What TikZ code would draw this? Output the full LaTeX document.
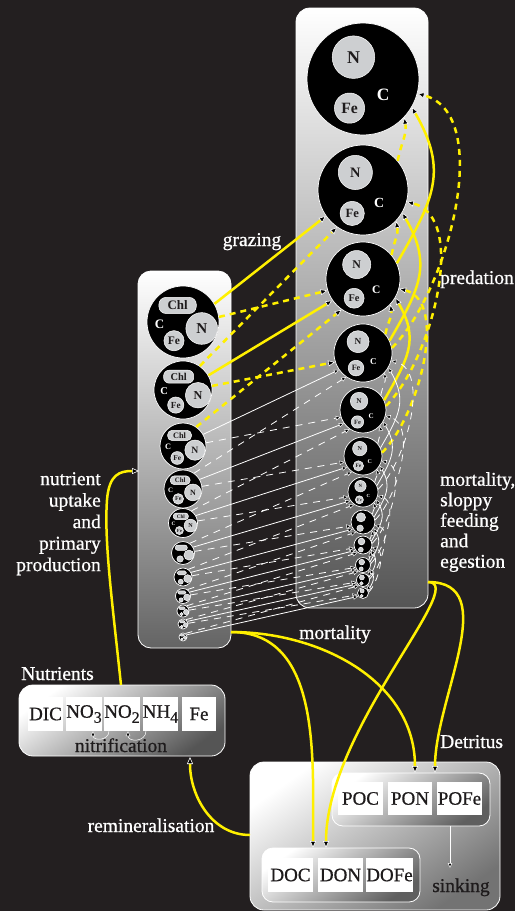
\documentclass[tikz,border=0pt]{standalone}
\usepackage{fontspec}
\setmainfont{Liberation Serif}
\newfontfamily\lblfont{Liberation Serif}[FakeBold=0.7]
\usetikzlibrary{arrows.meta}
\definecolor{bg}{RGB}{35,31,32}
\definecolor{yel}{RGB}{255,240,0}
\definecolor{cgray}{RGB}{205,207,209}
\definecolor{ink}{RGB}{30,27,28}
\definecolor{zbot}{RGB}{85,85,85}
\definecolor{pbot}{RGB}{100,100,100}
\definecolor{nbot}{RGB}{85,85,85}
\definecolor{dbot}{RGB}{115,115,115}
\definecolor{ibot}{RGB}{95,95,95}
\tikzset{
  ytip/.tip={Triangle[length=7pt,width=6pt,fill=black,color=white,line width=0.6pt]},
  wtip/.tip={Triangle[length=5pt,width=4.5pt,fill=black,color=white,line width=0.5pt]},
  ysolid/.style={draw=yel,line width=2.5pt,-ytip},
  ydash/.style={ysolid,dash pattern=on 6pt off 5pt},
  wsolid/.style={draw=white,line width=0.8pt,-wtip},
  wdash/.style={wsolid,dash pattern=on 7pt off 6pt},
  gr1/.style={ysolid}, gr0/.style={wsolid}, da1/.style={ydash}, da0/.style={wdash},
  zc/.style={circle,fill=black,draw=white,line width=0.7pt,inner sep=0pt},
  ic/.style={circle,fill=cgray,draw=white,line width=0.5pt,inner sep=0pt,text=ink},
  chl/.style={rectangle,fill=cgray,draw=white,line width=0.5pt,inner sep=0pt,text=ink},
  ct/.style={inner sep=0pt,text=white},
  lbl/.style={inner sep=0pt,text=white,font=\lblfont\fontsize{19.5}{21}\selectfont},
  dlbl/.style={inner sep=0pt,text=ink,font=\lblfont\fontsize{19.5}{21}\selectfont},
  wbox/.style={rectangle,fill=white,inner sep=0pt,text=ink,minimum height=34pt,font=\lblfont\fontsize{19}{20}\selectfont},
  panel/.style={rectangle,draw=white,line width=0.8pt,inner sep=0pt,rounded corners=14pt},
}
\begin{document}
\begin{tikzpicture}[x=1pt,y=-1pt]
\fill[bg] (0,0) rectangle (515,911);
\useasboundingbox (0,0) rectangle (515,911);

% panels
\node[panel,top color=white,bottom color=zbot,minimum width=132pt,minimum height=600pt] (zoo) at (362,308) {};
\node[panel,rounded corners=13pt,top color=white,bottom color=pbot,minimum width=93pt,minimum height=377pt] (phy) at (184.5,459.5) {};
\node[panel,top color=white,bottom color=nbot,shading angle=35,minimum width=206pt,minimum height=71pt] (nut) at (122,720.5) {};
\node[panel,top color=white,bottom color=dbot,shading angle=35,minimum width=250pt,minimum height=148pt] (det) at (375,836) {};
\node[panel,rounded corners=11pt,top color=white,bottom color=ibot,shading angle=35,minimum width=158pt,minimum height=53pt] (pom) at (411,799.5) {};
\node[panel,rounded corners=11pt,top color=white,bottom color=ibot,shading angle=35,minimum width=158pt,minimum height=54pt] (dom) at (341,875) {};

% nutrient boxes
\node[wbox,minimum width=35pt] (dic) at (45.5,714) {DIC};
\node[wbox,minimum width=36pt] (no3) at (84,714) {NO\raisebox{-5pt}{\fontsize{16}{16}\selectfont 3}};
\node[wbox,minimum width=36pt] (no2) at (122,714) {NO\raisebox{-5pt}{\fontsize{16}{16}\selectfont 2}};
\node[wbox,minimum width=35pt] (nh4) at (160.5,714) {NH\raisebox{-5pt}{\fontsize{16}{16}\selectfont 4}};
\node[wbox,minimum width=34pt] (fe) at (199,714) {Fe};

% detritus boxes
\node[wbox,minimum width=45pt,minimum height=33pt] (poc) at (360.5,798.5) {POC};
\node[wbox,minimum width=44pt,minimum height=33pt] (pon) at (410,798.5) {PON};
\node[wbox,minimum width=45pt,minimum height=33pt] (pofe) at (459.5,798.5) {POFe};
\node[wbox,minimum width=45pt] (doc) at (290.5,875) {DOC};
\node[wbox,minimum width=45pt] (don) at (340.5,875) {DON};
\node[wbox,minimum width=45pt] (dofe) at (389.5,875) {DOFe};

% zooplankton circles
\foreach \i/\x/\y/\rr in {1/363/79/56,2/363/190/45,3/363/279/37,4/363/353/29,5/363/410/23,6/363/456/19,7/363/492/15,8/363/522/12,9/363/545/9,10/363/565/7.5,11/363/580/6.5,12/363/593/5.5}{
  \node[zc,minimum size=2*\rr] (z\i) at (\x,\y) {};
  \pgfmathsetmacro\nx{\x-0.17*\rr}
  \pgfmathsetmacro\ny{\y-0.39*\rr}
  \pgfmathsetmacro\fx{\x-0.24*\rr}
  \pgfmathsetmacro\fy{\y+0.52*\rr}
  \pgfmathsetmacro\cx{\x+0.36*\rr}
  \pgfmathsetmacro\cy{\y+0.28*\rr}
  \pgfmathsetmacro\fsa{0.32*\rr}
  \pgfmathsetmacro\fsb{0.28*\rr}
  \pgfmathsetmacro\fsc{0.31*\rr}
  \pgfmathtruncatemacro\isbig{\rr>=14}
  \ifnum\isbig=1
    \node[ic,minimum size=0.76*\rr,font=\fontsize{\fsa}{\fsa}\selectfont\bfseries] (zN\i) at (\nx,\ny) {N};
    \node[ic,minimum size=0.54*\rr,font=\fontsize{\fsb}{\fsb}\selectfont\bfseries] (zF\i) at (\fx,\fy) {Fe};
    \node[ct,font=\fontsize{\fsc}{\fsc}\selectfont\bfseries] (zC\i) at (\cx,\cy) {C};
  \else
    \node[ic,minimum size=0.76*\rr] (zN\i) at (\nx,\ny) {};
    \node[ic,minimum size=0.54*\rr] (zF\i) at (\fx,\fy) {};
  \fi
}

% phytoplankton circles
\foreach \i/\x/\y/\rr in {1/183/322/36,2/183/390/29,3/183/446/23,4/183/489/19,5/183/523/14.5,6/183/553/11.5,7/183/577/9,8/183/596/7.5,9/183/611/6,10/183/624/5,11/183/637/4}{
  \node[zc,minimum size=2*\rr] (p\i) at (\x,\y) {};
  \pgfmathsetmacro\hx{\x-0.15*\rr}
  \pgfmathsetmacro\hy{\y-0.46*\rr}
  \pgfmathsetmacro\nx{\x+0.52*\rr}
  \pgfmathsetmacro\ny{\y+0.18*\rr}
  \pgfmathsetmacro\fx{\x-0.25*\rr}
  \pgfmathsetmacro\fy{\y+0.52*\rr}
  \pgfmathsetmacro\cx{\x-0.65*\rr}
  \pgfmathsetmacro\cy{\y+0.05*\rr}
  \pgfmathsetmacro\rc{0.2*\rr}
  \pgfmathsetmacro\fsh{0.36*\rr}
  \pgfmathsetmacro\fsa{0.42*\rr}
  \pgfmathsetmacro\fsb{0.32*\rr}
  \pgfmathtruncatemacro\isbig{\rr>=14}
  \ifnum\isbig=1
    \node[chl,rounded corners=\rc pt,minimum width=1.04*\rr,minimum height=0.45*\rr,font=\fontsize{\fsh}{\fsh}\selectfont\bfseries] (pH\i) at (\hx,\hy) {Chl};
    \node[ic,minimum size=0.88*\rr,font=\fontsize{\fsa}{\fsa}\selectfont\bfseries] (pN\i) at (\nx,\ny) {N};
    \node[ic,minimum size=0.56*\rr,font=\fontsize{\fsb}{\fsb}\selectfont\bfseries] (pF\i) at (\fx,\fy) {Fe};
    \node[ct,font=\fontsize{\fsh}{\fsh}\selectfont\bfseries] (pC\i) at (\cx,\cy) {C};
  \else
    \node[chl,rounded corners=\rc pt,minimum width=1.04*\rr,minimum height=0.45*\rr] (pH\i) at (\hx,\hy) {};
    \node[ic,minimum size=0.88*\rr] (pN\i) at (\nx,\ny) {};
    \node[ic,minimum size=0.56*\rr] (pF\i) at (\fx,\fy) {};
  \fi
}

% grazing
\foreach \i in {1,...,11}{
  \pgfmathtruncatemacro\ja{\i+1}
  \pgfmathtruncatemacro\jb{\i+2}
  \pgfmathtruncatemacro\ya{or(\i<3,\ja<4)}
  \pgfmathtruncatemacro\yb{or(\i<3,\jb<4)}
  \pgfmathtruncatemacro\yc{\i<4}
  \draw[gr\ya] (p\i.30) -- (z\ja.215);
  \ifnum\i>1 \draw[da\yc] (p\i.55) -- (z\i.235); \fi
  \ifnum\jb<13 \draw[da\yb] (p\i.8) -- (z\jb.198); \fi
}

% predation
\foreach \j in {1,...,11}{
  \pgfmathtruncatemacro\pa{\j+1}
  \pgfmathtruncatemacro\pb{\j+2}
  \pgfmathtruncatemacro\pc{\j+3}
  \pgfmathtruncatemacro\yy{\j<4}
  \draw[da\yy] (z\pa.40) to[out=80,in=-80] (z\j.-43);
  \ifnum\pb<13 \draw[gr\yy] (z\pb.25) to[out=60,in=-60,looseness=1.2] (z\j.-30); \fi
  \ifnum\pc<13 \draw[da\yy] (z\pc.10) to[out=45,in=-15,looseness=0.8] (z\j.-15); \fi
}

% named attach points
\coordinate (upst) at (121,685);
\coordinate (upend) at (139,471);
\coordinate (pm) at (231,632);
\coordinate (zm) at (428,582);
\coordinate (ponin) at (415,773);
\coordinate (pofein) at (435,773);
\coordinate (docin) at (313,848);
\coordinate (donin) at (326,848);
\coordinate (remst) at (250,835);
\coordinate (remend) at (190,757);
\coordinate (sinkst) at (450,826);
\coordinate (sinkend) at (450,868);
\coordinate (n2a) at (109,731);
\coordinate (n3a) at (93,731);
\coordinate (n4a) at (146,731);
\coordinate (n2b) at (128,731);

% flows
\draw[ysolid] (upst) .. controls (112,600) and (104,540) .. (107,500) .. controls (109,474) and (120,471) .. (upend);
\draw[ysolid] (pm) to[out=0,in=90] (docin);
\draw[ysolid] (pm) to[out=0,in=90] (ponin);
\draw[ysolid] (zm) to[out=0,in=90] (pofein);
\draw[ysolid] (zm) .. controls (470,582) and (326,730) .. (donin);
\draw[ysolid] (remst) to[out=180,in=-90] (remend);
\draw[wsolid] (sinkst) -- (sinkend);
\draw[wsolid,line width=0.5pt] (n2a) to[out=-90,in=-90,looseness=1.6] (n3a);
\draw[wsolid,line width=0.5pt] (n4a) to[out=-90,in=-90,looseness=1.6] (n2b);

% labels
\node[lbl,anchor=base] (tgraz) at (252,246) {grazing};
\node[lbl,anchor=base] (tpred) at (477,284) {predation};
\node[lbl,anchor=north west,align=left,font=\lblfont\fontsize{19.5}{20.5}\selectfont] (tmsf) at (440,472) {mortality,\\sloppy\\feeding\\and\\egestion};
\node[lbl,anchor=north east,align=right,font=\lblfont\fontsize{19.5}{21.5}\selectfont] (tupt) at (101,472) {nutrient\\uptake\\and\\primary\\production};
\node[lbl,anchor=base] (tmort) at (335,639) {mortality};
\node[lbl,anchor=base west] (tnut) at (21,680) {Nutrients};
\node[lbl,anchor=base west] (tdet) at (440,748) {Detritus};
\node[lbl,anchor=base] (trem) at (151,832) {remineralisation};
\node[dlbl,anchor=base] (tnit) at (121,752) {nitrification};
\node[dlbl,anchor=base] (tsink) at (461,892) {sinking};
\end{tikzpicture}
\end{document}
